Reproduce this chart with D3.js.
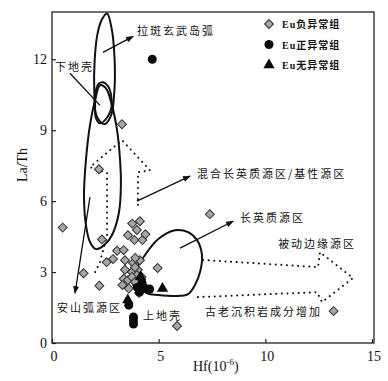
<!DOCTYPE html>
<html>
<head>
<meta charset="utf-8">
<script src="https://cdn.jsdelivr.net/npm/d3@7"></script>
<style>
  body { margin: 0; background: #fff; }
  svg { display: block; }
</style>
</head>
<body>
<svg id="chart" width="388" height="381"></svg>
<script>
// ---- data (Hf in 10^-6, La/Th) ----
var negEu = [[3.28,9.25],[2.2,7.35],[0.5,4.88],[2.34,4.38],[1.48,2.95],[2.22,2.42],[2.56,3.42],
  [2.86,3.55],[3.05,3.9],[3.36,3.93],[3.42,3.5],[3.42,3.1],[3.36,2.72],[3.3,2.45],[3.76,5.05],
  [4.12,5.15],[3.98,4.78],[3.56,4.56],[3.86,4.36],[4.24,4.36],[4.38,4.6],[4.95,3.17],[5.86,0.72],
  [7.4,5.45],[13.2,1.35],[3.8,3.38],[4.12,3.5],[3.9,3.6],[4.02,3.1],[3.75,3.0],[3.89,3.2],
  [3.56,2.66],[3.98,2.87],[3.98,2.45],[3.75,2.79],[4.2,2.79],[4.08,2.12],[3.89,2.58],[3.6,2.3]];
var posEu = [[4.7,12.0],[4.22,2.55],[4.36,2.32],[4.58,2.28],[4.1,2.15],[4.0,2.35],[3.6,1.6],
  [3.82,1.1],[3.82,0.95],[3.82,0.8]];
var noEu = [[5.18,2.3],[3.55,1.82],[4.15,2.8]];

var xTicks = [0, 5, 10, 15];
var yTicks = [0, 3, 6, 9, 12];

// field outlines (data units)
var fieldTholeiite = [[2.58,13.94],[2.81,13.23],[2.91,12.38],[2.95,11.45],[2.91,10.48],[2.77,9.63],
  [2.44,9.25],[2.08,9.63],[1.98,10.69],[2.0,11.96],[2.12,13.01],[2.32,13.65]];
var fieldLowerCrust = [[2.39,11.03],[2.63,10.86],[2.77,10.48],[2.79,9.97],[2.63,9.6],[2.25,9.29],
  [2.06,9.51],[2.02,10.05],[2.06,10.69],[2.2,10.98]];
var fieldAndesite = [[2.25,10.9],[2.02,10.27],[1.78,9.21],[1.59,7.73],[1.5,6.25],[1.59,4.99],
  [1.78,4.27],[2.06,3.97],[2.44,4.14],[2.81,4.56],[3.14,5.53],[3.23,6.68],[3.19,7.73],
  [3.05,9.0],[2.81,10.05],[2.53,10.77]];
var fieldFelsic = [[3.95,3.1],[4.36,3.72],[4.97,4.39],[5.77,4.77],[6.38,4.69],[6.8,4.35],[7.03,3.72],
  [6.94,3.0],[6.7,2.45],[6.38,2.07],[5.91,1.99],[4.97,2.03],[4.45,2.1],[4.08,2.4],[3.88,2.78]];

// dotted trend arrows (data units)
var trendUp = [[2.02,3.0],[2.25,3.42],[2.58,4.56],[2.58,7.18],[1.78,7.44],[3.28,8.58],
  [4.59,7.31],[4.03,7.22],[4.03,5.62]];
var trendRight = [[7.08,3.51],[12.47,3.21],[12.56,3.84],[14.11,2.75],[12.66,1.73],[12.42,2.15],
  [6.8,1.94]];

// label texts and anchors
var labels = [
  {t: "拉斑玄武岛弧", x: 3.98, y: 13.02},
  {t: "下地壳", x: 0.14, y: 11.5},
  {t: "混合长英质源区/基性源区", x: 6.8, y: 6.98},
  {t: "长英质源区", x: 8.81, y: 5.12},
  {t: "被动边缘源区", x: 10.6, y: 4.03},
  {t: "古老沉积岩成分增加", x: 7.17, y: 1.15},
  {t: "安山弧源区", x: 0.23, y: 1.32},
  {t: "上地壳", x: 4.27, y: 0.98}
];
var pointers = [
  {from: [2.39,12.29], to: [3.8,12.97], head: true},
  {from: [0.84,11.41], to: [2.25,10.05], head: false},
  {from: [3.98,6.0], to: [6.47,7.06], head: true},
  {from: [6.0,4.01], to: [8.49,5.15], head: true},
  {from: [1.78,6.17], to: [1.08,2.11], head: true}
];
var legendKeys = ["Eu负异常组", "Eu正异常组", "Eu无异常组"];

// ---- layout ----
var svg = d3.select("#chart");
var xs = d3.scaleLinear().domain([0, 15]).range([52, 372]);
var ys = d3.scaleLinear().domain([0, 14]).range([343, 12]);
var plotL = 52, plotR = 374, plotT = 12, plotB = 343;

svg.append("defs").append("marker")
  .attr("id", "head").attr("viewBox", "0 0 8 6")
  .attr("refX", 7).attr("refY", 3)
  .attr("markerWidth", 8).attr("markerHeight", 6)
  .attr("markerUnits", "userSpaceOnUse").attr("orient", "auto")
  .append("path").attr("d", "M0,0L8,3L0,6Z").attr("fill", "#111");

// frame
svg.append("rect")
  .attr("x", plotL).attr("y", plotT)
  .attr("width", plotR - plotL).attr("height", plotB - plotT)
  .attr("fill", "none").attr("stroke", "#222").attr("stroke-width", 1.3);

// axes (ticks inward)
svg.append("g").attr("transform", "translate(0," + plotB + ")")
  .call(d3.axisTop(xs).tickValues(xTicks).tickSize(4).tickFormat(""));
svg.append("g").attr("transform", "translate(" + plotL + ",0)")
  .call(d3.axisRight(ys).tickValues(yTicks).tickSize(4).tickFormat(""));
svg.selectAll(".domain").remove();
svg.selectAll(".tick line").attr("stroke", "#222").attr("stroke-width", 1.2);

svg.append("g").selectAll("text").data(xTicks).enter().append("text")
  .attr("x", function(d) { return xs(d) + 2; })
  .attr("y", 361)
  .attr("text-anchor", "middle")
  .attr("font-family", "Liberation Serif, serif").attr("font-size", "14px")
  .attr("fill", "#111")
  .text(function(d) { return d; });
svg.append("g").selectAll("text").data(yTicks).enter().append("text")
  .attr("x", 47)
  .attr("y", function(d) { return ys(d) + 5; })
  .attr("text-anchor", "end")
  .attr("font-family", "Liberation Serif, serif").attr("font-size", "14px")
  .attr("fill", "#111")
  .text(function(d) { return d; });

// axis titles
svg.append("text")
  .attr("transform", "translate(27,165) rotate(-90)")
  .attr("text-anchor", "middle")
  .attr("font-family", "Liberation Serif, serif").attr("font-size", "14px")
  .attr("fill", "#111")
  .text("La/Th");
var xt = svg.append("text")
  .attr("x", 193).attr("y", 371)
  .attr("font-family", "Liberation Serif, serif").attr("font-size", "14px")
  .attr("fill", "#111");
xt.append("tspan").text("Hf(10");
xt.append("tspan").attr("dy", -6).attr("font-size", "9px").text("-6");
xt.append("tspan").attr("dy", 6).text(")");

// fields
var fieldLine = d3.line()
  .x(function(d) { return xs(d[0]); })
  .y(function(d) { return ys(d[1]); })
  .curve(d3.curveCatmullRomClosed.alpha(0.5));
[fieldTholeiite, fieldLowerCrust, fieldAndesite, fieldFelsic].forEach(function(f) {
  svg.append("path").datum(f)
    .attr("d", fieldLine)
    .attr("fill", "none").attr("stroke", "#111").attr("stroke-width", 2);
});

// dotted trend arrows
var trendLine = d3.line()
  .x(function(d) { return xs(d[0]); })
  .y(function(d) { return ys(d[1]); });
[trendUp, trendRight].forEach(function(t) {
  svg.append("path").datum(t)
    .attr("d", trendLine)
    .attr("fill", "none").attr("stroke", "#111").attr("stroke-width", 2)
    .attr("stroke-linecap", "round").attr("stroke-dasharray", "0.1,5.5");
});

// pointer lines
pointers.forEach(function(p) {
  var l = svg.append("line")
    .attr("x1", xs(p.from[0])).attr("y1", ys(p.from[1]))
    .attr("x2", xs(p.to[0])).attr("y2", ys(p.to[1]))
    .attr("stroke", "#111").attr("stroke-width", 1.3);
  if (p.head) l.attr("marker-end", "url(#head)");
});

// labels
svg.append("g").selectAll("text").data(labels).enter().append("text")
  .attr("x", function(d) { return xs(d.x); })
  .attr("y", function(d) { return ys(d.y); })
  .attr("font-family", "Noto Sans CJK SC, sans-serif").attr("font-size", "11px")
  .attr("letter-spacing", "2px")
  .attr("fill", "#111")
  .text(function(d) { return d.t; });

// points
var diamond = d3.symbol().type(d3.symbolSquare).size(40);
svg.append("g").selectAll("path").data(negEu).enter().append("path")
  .attr("d", diamond)
  .attr("transform", function(d) { return "translate(" + xs(d[0]) + "," + ys(d[1]) + ") rotate(45)"; })
  .attr("fill", "#a6a6a6").attr("stroke", "#333").attr("stroke-width", 1);
svg.append("g").selectAll("circle").data(posEu).enter().append("circle")
  .attr("cx", function(d) { return xs(d[0]); })
  .attr("cy", function(d) { return ys(d[1]); })
  .attr("r", 4.5).attr("fill", "#0a0a0a");
var tri = d3.symbol().type(d3.symbolTriangle).size(55);
svg.append("g").selectAll("path").data(noEu).enter().append("path")
  .attr("d", tri)
  .attr("transform", function(d) { return "translate(" + xs(d[0]) + "," + ys(d[1]) + ")"; })
  .attr("fill", "#0a0a0a");

// legend
var lg = svg.append("g").attr("transform", "translate(269,24)");
lg.append("path").attr("d", diamond).attr("transform", "rotate(45)")
  .attr("fill", "#a6a6a6").attr("stroke", "#333").attr("stroke-width", 1);
lg.append("circle").attr("cy", 20.5).attr("r", 4.5).attr("fill", "#0a0a0a");
lg.append("path").attr("d", tri).attr("transform", "translate(0,41)").attr("fill", "#0a0a0a");
lg.selectAll("text").data(legendKeys).enter().append("text")
  .attr("x", 13)
  .attr("y", function(d, i) { return i * 20.5 + 4; })
  .attr("font-family", "Liberation Serif, Noto Sans CJK SC, serif").attr("font-size", "10px")
  .attr("font-weight", "bold").attr("letter-spacing", "1px")
  .attr("fill", "#111")
  .text(function(d) { return d; });
</script>
</body>
</html>
